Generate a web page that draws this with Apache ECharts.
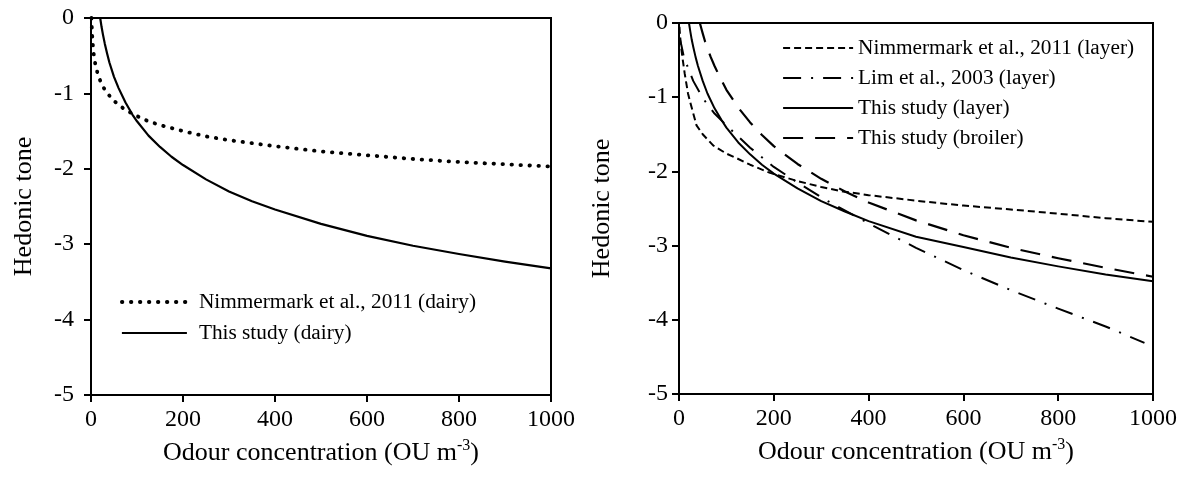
<!DOCTYPE html>
<html>
<head>
<meta charset="utf-8">
<script src="https://cdn.jsdelivr.net/npm/echarts@6/dist/echarts.min.js"></script>
<style>
html,body{margin:0;padding:0;background:#fff;}
#c{width:1181px;height:480px;}
</style>
</head>
<body>
<div id="c"></div>
<script>
// ---- Data ----
var xTicks = [0, 200, 400, 600, 800, 1000];
var yTicks = [-5, -4, -3, -2, -1, 0];

// Left panel (dairy)
var nimDairyX = [1, 2, 3, 5, 7, 10, 15, 20, 25, 30, 40, 50, 60, 75, 100, 125, 150, 200, 250, 300, 400, 500, 600, 700, 800, 900, 1000];
var nimDairyY = [0, -0.16, -0.28, -0.43, -0.53, -0.63, -0.75, -0.83, -0.90, -0.95, -1.03, -1.10, -1.15, -1.22, -1.30, -1.37, -1.42, -1.50, -1.57, -1.62, -1.70, -1.77, -1.82, -1.87, -1.91, -1.94, -1.97];
var thisDairyX = [20, 23, 26, 30, 35, 40, 50, 60, 75, 90, 100, 125, 150, 175, 200, 250, 300, 350, 400, 500, 600, 700, 800, 900, 1000];
var thisDairyY = [0, -0.12, -0.22, -0.34, -0.47, -0.59, -0.78, -0.93, -1.12, -1.28, -1.37, -1.56, -1.71, -1.84, -1.95, -2.14, -2.30, -2.43, -2.54, -2.73, -2.89, -3.02, -3.13, -3.23, -3.32];

// Right panel (poultry)
var nimLayerX = [1, 2, 4, 8, 12, 19, 25, 37, 50, 72, 100, 121, 150, 192, 250, 300, 346, 400, 522, 600, 695, 800, 900, 1000];
var nimLayerY = [-0.05, -0.15, -0.30, -0.50, -0.68, -0.95, -1.10, -1.38, -1.50, -1.65, -1.76, -1.82, -1.91, -2.02, -2.13, -2.21, -2.27, -2.32, -2.41, -2.46, -2.51, -2.57, -2.63, -2.68];
var limLayerX = [1, 5, 10, 20, 30, 51, 75, 100, 150, 200, 250, 311, 400, 500, 600, 700, 800, 900, 982];
var limLayerY = [-0.20, -0.30, -0.45, -0.62, -0.78, -1.02, -1.22, -1.38, -1.68, -1.94, -2.15, -2.39, -2.70, -3.03, -3.33, -3.60, -3.85, -4.09, -4.31];
var thisLayerX = [21, 24, 27, 30, 35, 40, 50, 60, 75, 90, 100, 125, 150, 175, 200, 250, 300, 350, 400, 500, 600, 700, 800, 900, 1000];
var thisLayerY = [0, -0.12, -0.23, -0.32, -0.46, -0.58, -0.78, -0.95, -1.15, -1.31, -1.41, -1.61, -1.77, -1.91, -2.03, -2.23, -2.40, -2.54, -2.67, -2.88, -3.02, -3.16, -3.28, -3.39, -3.48];
var broilerX = [44, 47, 50, 55, 60, 67, 75, 87, 100, 125, 150, 175, 200, 250, 300, 350, 400, 500, 600, 700, 800, 900, 1000];
var broilerY = [0, -0.07, -0.14, -0.25, -0.34, -0.46, -0.58, -0.74, -0.90, -1.14, -1.34, -1.51, -1.66, -1.90, -2.10, -2.27, -2.42, -2.66, -2.86, -3.03, -3.17, -3.30, -3.42];

var names = {
  nimDairy: 'Nimmermark et al., 2011 (dairy)',
  thisDairy: 'This study (dairy)',
  nimLayer: 'Nimmermark et al., 2011 (layer)',
  limLayer: 'Lim et al., 2003 (layer)',
  thisLayer: 'This study (layer)',
  broiler: 'This study (broiler)'
};

function pairs(xs, ys) { return xs.map(function (x, i) { return [x, ys[i]]; }); }

var FONT = 'Liberation Serif';
var tickFont = 24, titleFont = 26;

var styles = {
  nimDairy: { width: 3.8, type: [0.5, 8.5], cap: 'round' },
  thisDairy: { width: 2.2 },
  nimLayer: { width: 2, type: [7, 4] },
  limLayer: { width: 2, type: [18, 10, 2, 10] },
  thisLayer: { width: 2 },
  broiler: { width: 2.2, type: [20, 12] }
};

function xAxis(gi) {
  return {
    type: 'value', gridIndex: gi, min: xTicks[0], max: xTicks[xTicks.length - 1], interval: 200,
    name: '{a|Odour concentration (OU m}{s|-3}{a|)}',
    nameLocation: 'middle', nameGap: 43,
    nameTextStyle: {
      rich: {
        a: { fontFamily: FONT, fontSize: titleFont, color: '#000', lineHeight: 28, verticalAlign: 'bottom' },
        s: { fontFamily: FONT, fontSize: 16, color: '#000', lineHeight: 28, verticalAlign: 'top' }
      }
    },
    axisLine: { show: true, onZero: false, lineStyle: { color: '#000', width: 2 } },
    axisTick: { show: true, inside: false, length: 7, lineStyle: { color: '#000', width: 2 } },
    axisLabel: { color: '#000', fontFamily: FONT, fontSize: tickFont, margin: 13, formatter: function (v) { return String(v); } },
    splitLine: { show: false }
  };
}
function yAxis(gi, gap, margin) {
  return {
    type: 'value', gridIndex: gi, min: yTicks[0], max: yTicks[yTicks.length - 1], interval: 1,
    name: 'Hedonic tone', nameLocation: 'middle', nameGap: gap, nameRotate: 90,
    nameTextStyle: { color: '#000', fontFamily: FONT, fontSize: titleFont },
    axisLine: { show: true, onZero: false, lineStyle: { color: '#000', width: 2 } },
    axisTick: { show: true, inside: false, length: 7, lineStyle: { color: '#000', width: 2 } },
    axisLabel: { color: '#000', fontFamily: FONT, fontSize: tickFont, margin: margin },
    splitLine: { show: false }
  };
}

function line(key, xs, ys, gi) {
  return {
    type: 'line', name: names[key], xAxisIndex: gi, yAxisIndex: gi,
    data: pairs(xs, ys), showSymbol: false, symbol: 'none',
    smooth: false,
    lineStyle: Object.assign({ color: '#000', width: 2, join: 'round' }, styles[key]),
    itemStyle: { color: '#000' },
    emphasis: { disabled: true }, silent: true
  };
}
function legendItem(key) {
  return { name: names[key], lineStyle: Object.assign({ color: '#000' }, styles[key]), itemStyle: { opacity: 0 } };
}

var chart = echarts.init(document.getElementById('c'), null, { renderer: 'canvas' });
chart.setOption({
  animation: false,
  backgroundColor: '#fff',
  grid: [
    { left: 91, top: 18, width: 460, height: 377, show: true, borderColor: '#000', borderWidth: 2, backgroundColor: 'transparent' },
    { left: 679, top: 23, width: 474, height: 371, show: true, borderColor: '#000', borderWidth: 2, backgroundColor: 'transparent' }
  ],
  xAxis: [xAxis(0), xAxis(1)],
  yAxis: [yAxis(0, 54, 17), yAxis(1, 64, 11)],
  legend: [
    {
      orient: 'vertical', left: 120, top: 291, padding: 0,
      itemWidth: 65, itemHeight: 14, itemGap: 9,
      itemStyle: { opacity: 0 },
      data: [legendItem('nimDairy'), legendItem('thisDairy')],
      textStyle: { color: '#000', fontFamily: FONT, fontSize: 21.3, lineHeight: 22, padding: [0, 0, 0, 7] },
      selectedMode: false
    },
    {
      orient: 'vertical', left: 782, top: 37, padding: 0,
      itemWidth: 70, itemHeight: 14, itemGap: 8,
      itemStyle: { opacity: 0 },
      data: [legendItem('nimLayer'), legendItem('limLayer'), legendItem('thisLayer'), legendItem('broiler')],
      textStyle: { color: '#000', fontFamily: FONT, fontSize: 21.3, lineHeight: 22, padding: [0, 0, 0, 0] },
      selectedMode: false
    }
  ],
  series: [
    line('nimDairy', nimDairyX, nimDairyY, 0),
    line('thisDairy', thisDairyX, thisDairyY, 0),
    line('nimLayer', nimLayerX, nimLayerY, 1),
    line('limLayer', limLayerX, limLayerY, 1),
    line('thisLayer', thisLayerX, thisLayerY, 1),
    line('broiler', broilerX, broilerY, 1)
  ]
});
</script>
</body>
</html>
